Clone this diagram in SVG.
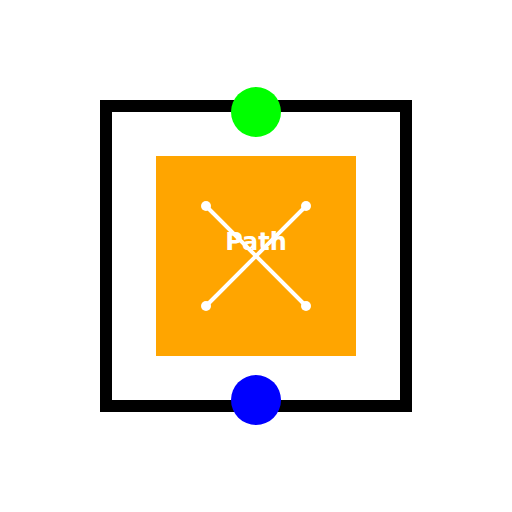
<svg xmlns="http://www.w3.org/2000/svg" width="512" height="512" viewBox="0 0 512 512">
<style>
.ln{stroke:#fff;stroke-width:4;fill:none}
.dot{fill:#fff}
.lbl{font-family:"DejaVu Sans",sans-serif;font-weight:bold;font-size:24px;fill:#fff}
</style>
<rect width="512" height="512" fill="#fff"/>
<g id="frame"><rect x="106" y="106" width="300" height="300" fill="none" stroke="#000" stroke-width="12"/></g>
<g id="path-node">
<rect x="156" y="156" width="200" height="200" fill="#FFA500"/>
<text class="lbl" x="256" y="250" text-anchor="middle">Path</text>
</g>
<g id="connectors">
<line class="ln" x1="206" y1="206" x2="306" y2="306"/>
<line class="ln" x1="306" y1="206" x2="206" y2="306"/>
<circle class="dot" cx="206" cy="206" r="5"/>
<circle class="dot" cx="306" cy="206" r="5"/>
<circle class="dot" cx="206" cy="306" r="5"/>
<circle class="dot" cx="306" cy="306" r="5"/>
</g>
<g id="top-port"><circle cx="256" cy="112" r="25" fill="#00FF00"/></g>
<g id="bottom-port"><circle cx="256" cy="400" r="25" fill="#0000FF"/></g>
</svg>
